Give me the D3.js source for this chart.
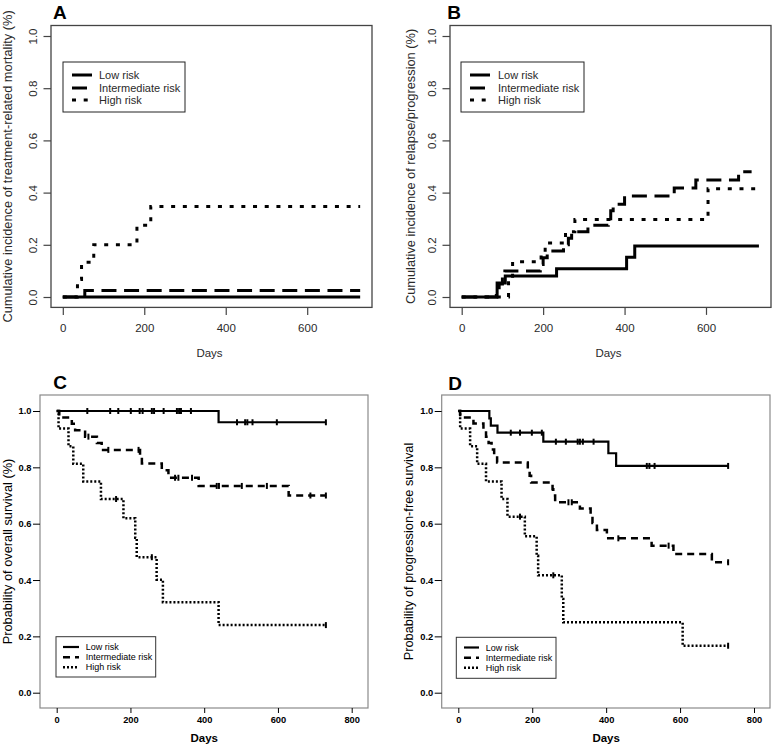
<!DOCTYPE html>
<html><head><meta charset="utf-8">
<script src="https://cdn.jsdelivr.net/npm/d3@7"></script>
<style>body{margin:0;background:#fff} svg{display:block;font-family:"Liberation Sans",Arial,Helvetica,sans-serif}</style>
</head><body><svg id="c" width="774" height="748"></svg>
<script>
// ---------- data ----------
const seriesNames = ["Low risk", "Intermediate risk", "High risk"];
const panelLetters = ["A", "B", "C", "D"];
const yTitles = [
  "Cumulative incidence of treatment-related mortality (%)",
  "Cumulative incidence of relapse/progression (%)",
  "Probability of overall survival (%)",
  "Probability of progression-free survival"
];
const xTitle = "Days";
const xTicksTop = [0, 200, 400, 600];
const xTicksBottom = [0, 200, 400, 600, 800];
const yTicks = [0, 0.2, 0.4, 0.6, 0.8, 1.0];

// Panel A: cumulative incidence of TRM  [day, value]
const aLow  = [[0,0],[730,0]];
const aInt  = [[0,0],[54,0.025],[730,0.025]];
const aHigh = [[0,0],[36,0.067],[46,0.133],[76,0.2],[182,0.275],[216,0.347],[730,0.347]];

// Panel B: cumulative incidence of relapse/progression
const bLow  = [[0,0],[87,0.054],[107,0.08],[233,0.108],[405,0.152],[425,0.195],[730,0.195]];
const bInt  = [[0,0],[85,0.025],[92,0.05],[100,0.075],[106,0.1],[193,0.125],[200,0.15],[210,0.176],
               [250,0.2],[262,0.225],[270,0.25],[310,0.275],[360,0.30],[366,0.33],[372,0.355],
               [400,0.387],[522,0.418],[575,0.448],[680,0.48],[712,0.48]];
const bHigh = [[0,0],[115,0.067],[125,0.135],[195,0.17],[205,0.207],[255,0.25],[278,0.297],[605,0.415],[730,0.415]];

// Panel C: overall survival
const cLow  = [[0,1],[439,0.96],[730,0.96]];
const cInt  = [[0,1],[7,0.977],[41,0.955],[50,0.932],[77,0.909],[109,0.886],[122,0.862],[226,0.838],
               [231,0.814],[285,0.79],[303,0.763],[385,0.734],[629,0.70],[730,0.70]];
const cHigh = [[0,1],[5,0.9375],[32,0.875],[45,0.8125],[72,0.75],[120,0.6875],[181,0.619],[213,0.55],
               [217,0.481],[271,0.401],[288,0.321],[439,0.24],[730,0.24]];
const cLowCensor  = [83,145,167,201,225,233,258,264,290,326,332,337,364,489,511,517,531,597,730];
const cIntCensor  = [86,140,222,321,330,367,434,440,502,570,688,730];
const cHighCensor = [161,258,730];

// Panel D: progression-free survival
const dLow  = [[0,1],[84,0.974],[88,0.948],[106,0.923],[230,0.891],[406,0.85],[427,0.805],[730,0.805]];
const dInt  = [[0,1],[5,0.977],[41,0.956],[68,0.932],[75,0.909],[82,0.886],[90,0.863],[97,0.84],[105,0.817],
               [188,0.793],[193,0.77],[197,0.746],[255,0.722],[257,0.70],[262,0.676],[329,0.654],[358,0.628],
               [363,0.602],[375,0.578],[402,0.548],[523,0.522],[582,0.492],[686,0.463],[730,0.463]];
const dHigh = [[0,1],[5,0.9375],[32,0.875],[51,0.8125],[75,0.75],[117,0.6875],[133,0.625],[180,0.5556],
               [212,0.486],[216,0.4167],[280,0.333],[284,0.25],[607,0.1667],[730,0.1667]];
const dLowCensor  = [142,167,199,226,264,291,323,329,337,366,510,517,531,730];
const dIntCensor  = [298,307,433,569,730];
const dHighCensor = [167,257,730];

// ---------- drawing ----------
const svg = d3.select("#c");
const FONT = '"Liberation Sans",Arial,Helvetica,sans-serif';

const styleR = [
  {w:3, dash:null},
  {w:3, dash:"15,7.6"},
  {w:3, dash:"4,7.7"}
];
const styleS = [
  {w:2.2, dash:null},
  {w:2.5, dash:"7,5"},
  {w:2.5, dash:"2,2"}
];

const panels = [
  {letter:0, series:[aLow,aInt,aHigh], censor:null, kind:"R",
   box:[51,25.5,372,307.4], xDom:600, xRange:[62.8,307.2], yRange:[297,36],
   xTicks:xTicksTop, letterPos:[53,18.5], yTitleX:8,
   legend:{box:[63,62,185,112], lx:[72,92], tx:99, ys:[75,88,100], fs:11}},
  {letter:1, series:[bLow,bInt,bHigh], censor:null, kind:"R",
   box:[450,25.5,771,307.4], xDom:600, xRange:[461.7,706], yRange:[297,36],
   xTicks:xTicksTop, letterPos:[447.3,18.5], yTitleX:410.8,
   legend:{box:[461,62,584,112], lx:[470,490], tx:498, ys:[75,88,100], fs:11}},
  {letter:2, series:[cLow,cInt,cHigh], censor:[cLowCensor,cIntCensor,cHighCensor], kind:"S",
   box:[40,395,368,708], xDom:800, xRange:[56.7,351.7], yRange:[692.7,411],
   xTicks:xTicksBottom, letterPos:[53.3,389], yTitleX:7.5,
   legend:{box:[56,636.7,155.7,677], lx:[63,79], tx:85.7, ys:[647,657.3,667.3], fs:9}},
  {letter:3, series:[dLow,dInt,dHigh], censor:[dLowCensor,dIntCensor,dHighCensor], kind:"S",
   box:[441.7,395,770,708], xDom:800, xRange:[458.3,754], yRange:[692.7,411],
   xTicks:xTicksBottom, letterPos:[448.3,390], yTitleX:409,
   legend:{box:[456.3,637.3,556,678.3], lx:[464,479], tx:485.7, ys:[647.5,657.8,667.8], fs:9}}
];

function stepValue(series, t){
  let v = series[0][1];
  for (const d of series) { if (d[0] <= t) v = d[1]; }
  return v;
}

panels.forEach(p => {
  const g = svg.append("g");
  const R = p.kind === "R";
  const styles = R ? styleR : styleS;
  const x = d3.scaleLinear().domain([0, p.xDom]).range(p.xRange);
  const y = d3.scaleLinear().domain([0, 1]).range(p.yRange);
  const [bx0, by0, bx1, by1] = p.box;
  const textCol = R ? "#2a2a2a" : "#000";

  // box
  g.append("rect").attr("x", bx0).attr("y", by0).attr("width", bx1 - bx0).attr("height", by1 - by0)
    .attr("fill", "none").attr("stroke", R ? "#444" : "#8a8a8a").attr("stroke-width", R ? 1.3 : 1.2);

  // x axis
  const xa = g.append("g").attr("transform", `translate(0,${by1})`)
    .call(d3.axisBottom(x).tickValues(p.xTicks).tickFormat(d3.format("d"))
      .tickSize(R ? 7.5 : 5).tickSizeOuter(0).tickPadding(R ? 8.5 : 3.8));
  xa.select(".domain").remove();
  xa.selectAll("line").attr("stroke", R ? "#444" : "#000").attr("stroke-width", R ? 1.2 : 1);
  xa.selectAll("text").attr("font-family", FONT).attr("font-size", R ? 11.5 : 9.3)
    .attr("fill", textCol).attr("font-weight", R ? "normal" : "bold");

  // y axis
  const ya = g.append("g").attr("transform", `translate(${bx0},0)`)
    .call(d3.axisLeft(y).tickValues(yTicks).tickFormat(d3.format(".1f"))
      .tickSize(R ? 7.5 : 7).tickSizeOuter(0).tickPadding(R ? 8 : 1.5));
  ya.select(".domain").remove();
  ya.selectAll("line").attr("stroke", R ? "#444" : "#000").attr("stroke-width", R ? 1.2 : 1);
  ya.selectAll("text").attr("font-family", FONT).attr("font-size", R ? 11.5 : 9.3)
    .attr("fill", textCol).attr("font-weight", R ? "normal" : "bold");
  if (R) {
    ya.selectAll("text").attr("text-anchor", "middle").attr("x", null).attr("dy", "0.35em")
      .attr("transform", "translate(-18,0) rotate(-90)");
  }

  // axis titles
  const daysX = R ? (bx0 + bx1) / 2 - 2 : x(400);
  g.append("text").attr("x", daysX).attr("y", R ? 353 : 737.5)
    .attr("dy", "0.35em").attr("text-anchor", "middle")
    .attr("font-family", FONT).attr("font-size", 11.5)
    .attr("font-weight", R ? "normal" : "bold").attr("fill", textCol).text(xTitle);
  g.append("text")
    .attr("transform", `translate(${p.yTitleX},${(by0 + by1) / 2}) rotate(-90)`)
    .attr("dy", "0.35em").attr("text-anchor", "middle")
    .attr("font-family", FONT).attr("font-size", 12.8).attr("fill", textCol)
    .text(yTitles[p.letter]);

  // panel letter
  g.append("text").attr("x", p.letterPos[0]).attr("y", p.letterPos[1])
    .attr("font-family", FONT).attr("font-size", 19).attr("font-weight", "bold")
    .attr("fill", "#000").text(panelLetters[p.letter]);

  // curves
  const line = d3.line().x(d => x(d[0])).y(d => y(d[1])).curve(d3.curveStepAfter);
  [2, 1, 0].forEach(i => {
    const s = styles[i];
    g.append("path").datum(p.series[i]).attr("d", line)
      .attr("fill", "none").attr("stroke", "#000").attr("stroke-width", s.w)
      .attr("stroke-dasharray", s.dash).attr("stroke-linecap", "butt");
  });

  // censor marks
  if (p.censor) {
    p.censor.forEach((arr, i) => {
      g.selectAll(null).data(arr).enter().append("line")
        .attr("x1", d => x(d)).attr("x2", d => x(d))
        .attr("y1", d => y(stepValue(p.series[i], d)) - 3)
        .attr("y2", d => y(stepValue(p.series[i], d)) + 3)
        .attr("stroke", "#000").attr("stroke-width", 2);
    });
  }

  // legend
  const L = p.legend;
  g.append("rect").attr("x", L.box[0]).attr("y", L.box[1])
    .attr("width", L.box[2] - L.box[0]).attr("height", L.box[3] - L.box[1])
    .attr("fill", "#fff").attr("stroke", R ? "#222" : "#333").attr("stroke-width", 1);
  seriesNames.forEach((name, i) => {
    const s = styles[i];
    g.append("line").attr("x1", L.lx[0]).attr("x2", L.lx[1]).attr("y1", L.ys[i]).attr("y2", L.ys[i])
      .attr("stroke", "#000").attr("stroke-width", s.w).attr("stroke-dasharray", s.dash);
    g.append("text").attr("x", L.tx).attr("y", L.ys[i]).attr("dy", "0.35em")
      .attr("font-family", FONT).attr("font-size", L.fs).attr("fill", textCol).text(name);
  });
});
</script></body></html>
